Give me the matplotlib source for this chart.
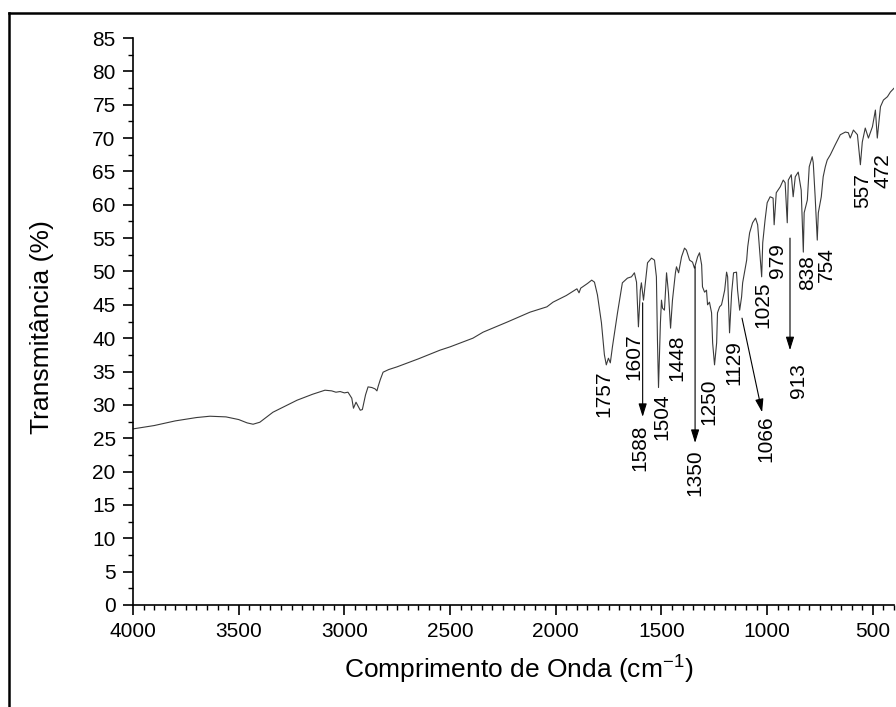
import matplotlib
matplotlib.use("Agg")
import matplotlib.pyplot as plt
from matplotlib.lines import Line2D

# FTIR spectrum (wavenumber in cm-1, transmittance in %)
wavenumber = [4000, 3900, 3800, 3700, 3636, 3560, 3500, 3460, 3432, 3400,
              3338, 3224, 3150, 3092, 3060, 3040, 3020, 3000, 2983, 2965,
              2957, 2945, 2925, 2915, 2900, 2888, 2870, 2855, 2846, 2840,
              2830, 2817, 2790, 2751, 2650, 2548, 2500, 2392, 2344, 2231,
              2122, 2042, 2013, 1950, 1900, 1890, 1882, 1850, 1830, 1817,
              1803, 1784, 1770, 1761, 1751, 1742, 1732, 1708, 1685, 1661,
              1642, 1628, 1618, 1609, 1600, 1595, 1585, 1576, 1566, 1547,
              1533, 1524, 1519, 1514, 1505, 1500, 1495, 1486, 1476, 1467,
              1457, 1448, 1434, 1429, 1419, 1405, 1391, 1382, 1367, 1353,
              1344, 1329, 1320, 1310, 1306, 1296, 1287, 1282, 1273, 1263,
              1258, 1249, 1239, 1235, 1225, 1216, 1211, 1201, 1192, 1187,
              1178, 1168, 1159, 1145, 1140, 1130, 1121, 1116, 1097, 1092,
              1083, 1069, 1055, 1045, 1036, 1026, 1021, 1010, 1000, 986,
              972, 967, 957, 938, 924, 915, 905, 900, 886, 877,
              867, 853, 839, 829, 825, 810, 801, 787, 782, 773,
              763, 758, 744, 735, 725, 716, 701, 678, 654, 630,
              616, 607, 592, 573, 559, 550, 536, 521, 502, 488,
              479, 464, 450, 431, 417, 393]
transmittance = [26.4, 26.9, 27.6, 28.1, 28.3, 28.2, 27.8, 27.3, 27.1, 27.4,
                 28.9, 30.7, 31.6, 32.2, 32.1, 31.9, 32.0, 31.8, 31.9, 31.0,
                 29.5, 30.4, 29.2, 29.3, 31.5, 32.7, 32.6, 32.4, 32.1, 32.8,
                 33.8, 34.9, 35.3, 35.7, 36.9, 38.2, 38.7, 40.0, 40.9, 42.4,
                 43.9, 44.7, 45.4, 46.4, 47.4, 46.8, 47.5, 48.2, 48.7, 48.4,
                 46.5, 42.3, 37.5, 36.0, 37.0, 36.3, 38.7, 43.8, 48.3, 49.0,
                 49.2, 49.8, 48.4, 41.7, 47.2, 48.3, 45.7, 48.3, 51.3, 52.0,
                 51.7, 49.2, 39.7, 32.6, 42.3, 45.7, 44.5, 44.2, 49.8, 46.8,
                 41.5, 45.7, 49.8, 50.7, 49.8, 52.2, 53.5, 53.2, 51.7, 51.4,
                 50.5, 52.2, 52.8, 51.0, 47.7, 46.9, 47.2, 45.0, 45.4, 43.8,
                 39.3, 36.0, 39.3, 43.8, 44.7, 45.0, 45.7, 47.2, 49.9, 49.2,
                 40.8, 46.8, 49.8, 49.9, 47.2, 44.2, 46.2, 48.3, 51.7, 53.7,
                 55.8, 57.3, 58.0, 57.0, 53.2, 49.2, 54.3, 57.7, 60.3, 61.2,
                 61.0, 57.0, 61.8, 62.7, 63.7, 63.3, 57.3, 63.7, 64.5, 61.2,
                 64.2, 64.9, 62.2, 52.9, 58.8, 60.7, 65.7, 67.2, 66.3, 61.2,
                 54.7, 58.8, 61.2, 64.2, 65.7, 66.7, 67.5, 69.0, 70.5, 70.9,
                 70.8, 70.0, 71.2, 70.5, 66.0, 69.4, 71.5, 70.0, 71.7, 74.2,
                 70.0, 74.7, 75.7, 76.2, 76.9, 77.7]

# peak labels
peak_labels = ["1757", "1607", "1588", "1504", "1448", "1350", "1250", "1129",
               "1066", "1025", "979", "913", "838", "754", "557", "472"]
# where each label sits (x in cm-1, y in %)
label_pos = [(1772, 31.6), (1630, 37.2), (1602, 23.5), (1498, 28.2),
             (1427, 37.0), (1342, 19.9), (1275, 30.4), (1157, 36.4),
             (1006, 25.0), (1020, 45.0), (949, 51.6), (854, 33.7),
             (807, 49.8), (722, 51.1), (547, 62.2), (452, 65.1)]
# arrows: (start, tip)
arrows = [((1589, 45.3), (1589, 28.2)),
          ((1341, 50.7), (1341, 24.3)),
          ((1119, 43.0), (1024, 28.9)),
          ((892, 55.0), (892, 38.2))]

plt.rcParams['font.family'] = ['Liberation Sans', 'DejaVu Sans']
plt.rcParams['mathtext.default'] = 'regular'

W, H = 896, 707
fig = plt.figure(figsize=(W / 100, H / 100), dpi=100)
ax = fig.add_axes([133 / W, 1 - 605 / H, (894 - 133) / W, (605 - 38) / H])

ax.plot(wavenumber, transmittance, color='#3a3a3a', lw=0.8)

ax.set_xlim(4000, 400)
ax.set_ylim(0, 85)
ax.set_xticks(range(4000, 499, -500))
ax.set_xticks(range(4000, 399, -50), minor=True)
ax.set_yticks(range(0, 86, 5))
ax.set_yticks([i * 2.5 for i in range(35)], minor=True)

for s in ['top', 'right']:
    ax.spines[s].set_visible(False)
for s in ['left', 'bottom']:
    ax.spines[s].set_linewidth(1.2)
ax.tick_params(which='major', length=7.5, width=1.2, labelsize=15, pad=5)
ax.tick_params(which='minor', length=3.7, width=1.0)

ax.set_xlabel(r'Comprimento de Onda (cm$^{-1}$)', fontsize=19)
ax.set_ylabel('Transmitância (%)', fontsize=19)
ax.xaxis.set_label_coords((519 - 133) / (894 - 133), -(654 - 605) / (605 - 38))
ax.yaxis.set_label_coords(-(133 - 54) / (894 - 133), (605 - 327) / (605 - 38))

for txt, (x, y) in zip(peak_labels, label_pos):
    ax.text(x, y, txt, rotation=90, ha='center', va='center', fontsize=15)

for start, tip in arrows:
    ax.annotate('', xy=tip, xytext=start,
                arrowprops=dict(arrowstyle='-|>,head_length=0.8,head_width=0.25',
                                mutation_scale=10, color='k', lw=0.8,
                                shrinkA=0, shrinkB=0))

# outer frame, cut by the image edge on the right and bottom
fig.add_artist(Line2D([9 / W, 9 / W], [0, 1 - 13 / H], color='k', lw=1.8))
fig.add_artist(Line2D([9 / W, 1], [1 - 13 / H, 1 - 13 / H], color='k', lw=1.8))

fig.savefig('out.png', dpi=100)
